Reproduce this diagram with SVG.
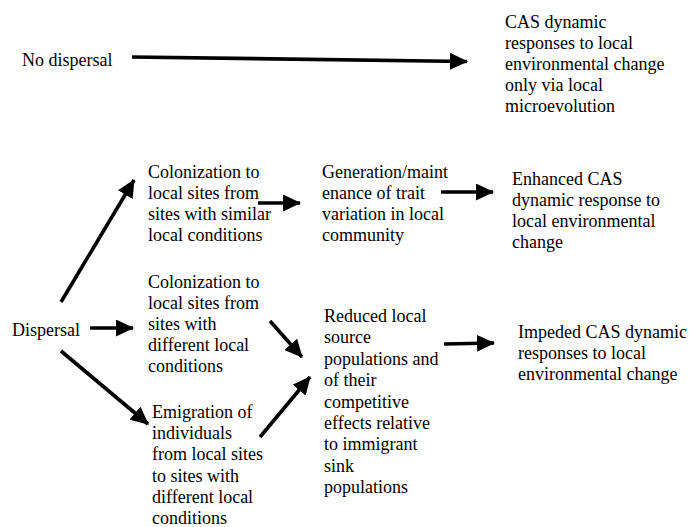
<svg xmlns="http://www.w3.org/2000/svg" width="691" height="527" viewBox="0 0 691 527">
<defs>
<style>
text{font-family:"Liberation Serif","Times New Roman",Times,serif;font-size:18px;fill:#000;}
.c{stroke:#000;stroke-width:3.6;fill:none;marker-end:url(#ah);}
</style>
<marker id="ah" markerUnits="userSpaceOnUse" markerWidth="18" markerHeight="17" refX="17" refY="8.5" orient="auto">
<path d="M0,0 L18,8.5 L0,17 z" fill="#000"/>
</marker>
</defs>
<rect width="691" height="527" fill="#fff"/>
<g id="connectors">
<line class="c" x1="132" y1="57" x2="467" y2="61.5"/>
<line class="c" x1="258" y1="203" x2="300" y2="203"/>
<line class="c" x1="441" y1="192" x2="493" y2="192"/>
<line class="c" x1="61" y1="302" x2="134" y2="180"/>
<line class="c" x1="90" y1="328" x2="133" y2="328"/>
<line class="c" x1="61" y1="351" x2="148" y2="424"/>
<line class="c" x1="270" y1="321" x2="302" y2="357"/>
<line class="c" x1="260" y1="437" x2="310" y2="377"/>
<line class="c" x1="444" y1="344" x2="494" y2="343"/>
</g>
<g id="no-dispersal" font-family="Liberation Serif, serif"><text x="22" y="66">No dispersal</text></g>
<g id="cas-local" font-family="Liberation Serif, serif"><text x="505" y="28">CAS dynamic</text><text x="505" y="49">responses to local</text><text x="505" y="70">environmental change</text><text x="505" y="91">only via local</text><text x="505" y="112">microevolution</text></g>
<g id="colonization-similar" font-family="Liberation Serif, serif"><text x="148" y="178">Colonization to</text><text x="148" y="199">local sites from</text><text x="148" y="220">sites with similar</text><text x="148" y="241">local conditions</text></g>
<g id="generation" font-family="Liberation Serif, serif"><text x="322" y="178">Generation/maint</text><text x="322" y="199">enance of trait</text><text x="322" y="220">variation in local</text><text x="322" y="241">community</text></g>
<g id="enhanced" font-family="Liberation Serif, serif"><text x="512" y="185">Enhanced CAS</text><text x="512" y="206">dynamic response to</text><text x="512" y="227">local environmental</text><text x="512" y="248">change</text></g>
<g id="dispersal" font-family="Liberation Serif, serif"><text x="12" y="336">Dispersal</text></g>
<g id="colonization-different" font-family="Liberation Serif, serif"><text x="148" y="288">Colonization to</text><text x="148" y="309">local sites from</text><text x="148" y="330">sites with</text><text x="148" y="351">different local</text><text x="148" y="372">conditions</text></g>
<g id="emigration" font-family="Liberation Serif, serif"><text x="152" y="418">Emigration of</text><text x="152" y="439">individuals</text><text x="152" y="460">from local sites</text><text x="152" y="482">to sites with</text><text x="152" y="503">different local</text><text x="152" y="524">conditions</text></g>
<g id="reduced" font-family="Liberation Serif, serif"><text x="324" y="322">Reduced local</text><text x="324" y="343">source</text><text x="324" y="365">populations and</text><text x="324" y="386">of their</text><text x="324" y="408">competitive</text><text x="324" y="429">effects relative</text><text x="324" y="450">to immigrant</text><text x="324" y="472">sink</text><text x="324" y="493">populations</text></g>
<g id="impeded" font-family="Liberation Serif, serif"><text x="518" y="338">Impeded CAS dynamic</text><text x="518" y="359">responses to local</text><text x="518" y="380">environmental change</text></g>
</svg>
